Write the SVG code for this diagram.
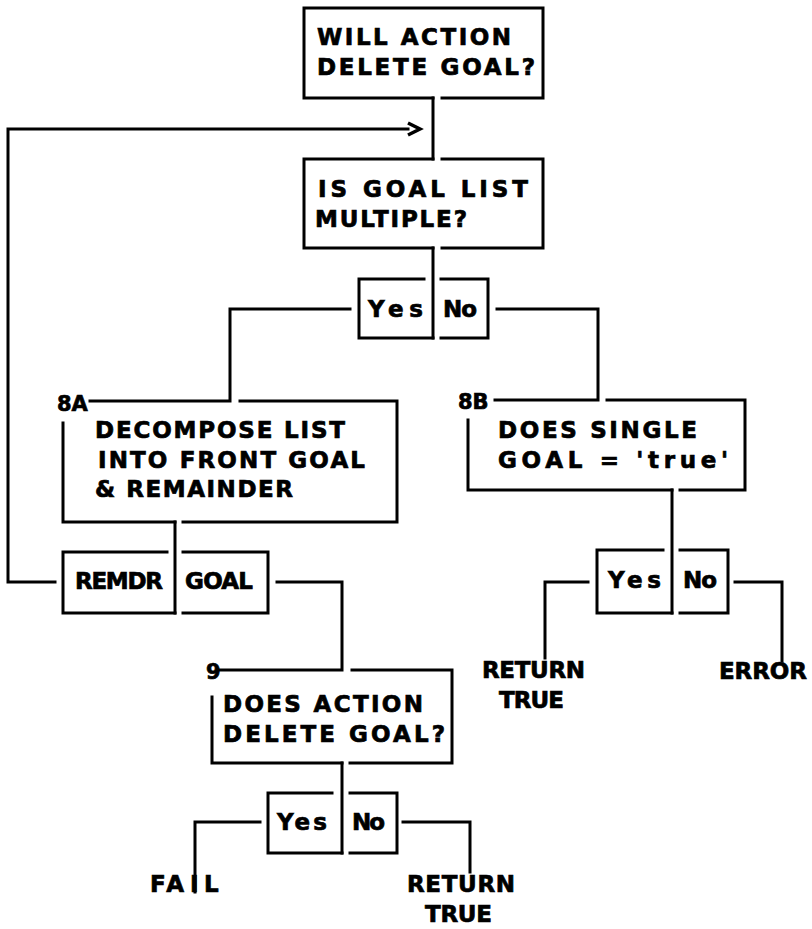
<svg xmlns="http://www.w3.org/2000/svg" width="812" height="929" viewBox="0 0 812 929">
  <style>
    .ln { fill: none; stroke: #000; stroke-width: 3; stroke-linejoin: miter; stroke-linecap: square; }
    .t { font-family: "DejaVu Sans", "Liberation Sans", sans-serif; font-weight: bold; font-size: 23px; fill: #000; stroke: #000; stroke-width: 0.7; }
    .lbl { font-size: 21px; }
  </style>
  <defs>
    <marker id="chev" markerUnits="userSpaceOnUse" markerWidth="18" markerHeight="16" refX="1" refY="8" orient="auto" overflow="visible">
      <path d="M1,2 L13,8 L1,14" fill="none" stroke="#000" stroke-width="3.5"/>
    </marker>
  </defs>
  <rect width="812" height="929" fill="#fff"/>

  <!-- connectors -->
  <g id="connectors" class="ln">
    <path d="M433,98 V159"/>
    <path d="M433,248 V338"/>
    <path d="M350,309 H230 V401 H90"/>
    <path d="M497,309 H598 V400 H495"/>
    <path d="M175,522 V613"/>
    <path d="M55,582 H8 V129 H408" marker-end="url(#chev)"/>
    <path d="M277,582 H342 V670 H218"/>
    <path d="M672,490 V613"/>
    <path d="M588,582 H545 V658"/>
    <path d="M735,582 H782 V661"/>
    <path d="M342,763 V853"/>
    <path d="M260,822 H195 V892"/>
    <path d="M403,822 H470 V872"/>
  </g>

  <!-- decision: will action delete goal -->
  <g id="n_will_delete">
    <path class="ln" d="M433,98 H304 V8 H543 V98 H442"/>
    <text class="t" x="317" y="45" textLength="194" lengthAdjust="spacing">WILL ACTION</text>
    <text class="t" x="317" y="75" textLength="218" lengthAdjust="spacing">DELETE GOAL?</text>
  </g>

  <!-- decision: is goal list multiple -->
  <g id="n_multiple">
    <path class="ln" d="M433,159 H304 V248 H433 M442,248 H543 V159 H442"/>
    <text class="t" x="318" y="197" textLength="210" lengthAdjust="spacing">IS GOAL LIST</text>
    <text class="t" x="315" y="227" textLength="152" lengthAdjust="spacing">MULTIPLE?</text>
  </g>

  <g id="n_multiple_yes">
    <path class="ln" d="M424,279 H359 V338 H433"/>
    <text class="t" x="368" y="317" textLength="55" lengthAdjust="spacing">Yes</text>
  </g>
  <g id="n_multiple_no">
    <path class="ln" d="M441,279 H488 V338 H441"/>
    <text class="t" x="443" y="317" textLength="34" lengthAdjust="spacing">No</text>
  </g>

  <!-- 8A: decompose list -->
  <g id="n_8a">
    <text class="t lbl" x="57" y="411">8A</text>
    <path class="ln" d="M240,401 H397 V522 H183 M63,423 V522 H175"/>
    <text class="t" x="95" y="438" textLength="250" lengthAdjust="spacing">DECOMPOSE LIST</text>
    <text class="t" x="98" y="468" textLength="267" lengthAdjust="spacing">INTO FRONT GOAL</text>
    <text class="t" x="95" y="497" textLength="198" lengthAdjust="spacing">&amp; REMAINDER</text>
  </g>

  <g id="n_remdr">
    <path class="ln" d="M167,552 H63 V613 H175"/>
    <text class="t" x="75" y="589" textLength="88" lengthAdjust="spacing">REMDR</text>
  </g>
  <g id="n_goal">
    <path class="ln" d="M183,552 H268 V613 H183"/>
    <text class="t" x="185" y="589" textLength="68" lengthAdjust="spacing">GOAL</text>
  </g>

  <!-- 8B: single goal test -->
  <g id="n_8b">
    <text class="t lbl" x="458" y="409">8B</text>
    <path class="ln" d="M607,400 H745 V490 H680 M468,420 V490 H672"/>
    <text class="t" x="498" y="438" textLength="199" lengthAdjust="spacing">DOES SINGLE</text>
    <text class="t" x="498" y="468" textLength="230" lengthAdjust="spacing">GOAL = 'true'</text>
  </g>
  <g id="n_8b_yes">
    <path class="ln" d="M663,550 H597 V613 H672"/>
    <text class="t" x="608" y="588" textLength="53" lengthAdjust="spacing">Yes</text>
  </g>
  <g id="n_8b_no">
    <path class="ln" d="M680,550 H728 V613 H680"/>
    <text class="t" x="683" y="588" textLength="34" lengthAdjust="spacing">No</text>
  </g>
  <g id="n_return_true_a">
    <text class="t" x="482" y="678" textLength="103" lengthAdjust="spacing">RETURN</text>
    <text class="t" x="499" y="708" textLength="65" lengthAdjust="spacing">TRUE</text>
  </g>
  <g id="n_error">
    <text class="t" x="719" y="679" textLength="88" lengthAdjust="spacing">ERROR</text>
  </g>

  <!-- 9: does action delete goal -->
  <g id="n_9">
    <text class="t lbl" x="206" y="679">9</text>
    <path class="ln" d="M352,670 H452 V763 H350 M212,697 V763 H342"/>
    <text class="t" x="223" y="712" textLength="200" lengthAdjust="spacing">DOES ACTION</text>
    <text class="t" x="223" y="742" textLength="222" lengthAdjust="spacing">DELETE GOAL?</text>
  </g>
  <g id="n_9_yes">
    <path class="ln" d="M332,793 H268 V853 H342"/>
    <text class="t" x="277" y="830" textLength="50" lengthAdjust="spacing">Yes</text>
  </g>
  <g id="n_9_no">
    <path class="ln" d="M350,793 H397 V853 H350"/>
    <text class="t" x="352" y="830" textLength="33" lengthAdjust="spacing">No</text>
  </g>
  <g id="n_fail">
    <text class="t" y="892"><tspan x="150" textLength="34" lengthAdjust="spacing">FA</tspan><tspan x="190">I</tspan><tspan x="204">L</tspan></text>
  </g>
  <g id="n_return_true_b">
    <text class="t" x="407" y="892" textLength="108" lengthAdjust="spacing">RETURN</text>
    <text class="t" x="425" y="922" textLength="67" lengthAdjust="spacing">TRUE</text>
  </g>
</svg>
